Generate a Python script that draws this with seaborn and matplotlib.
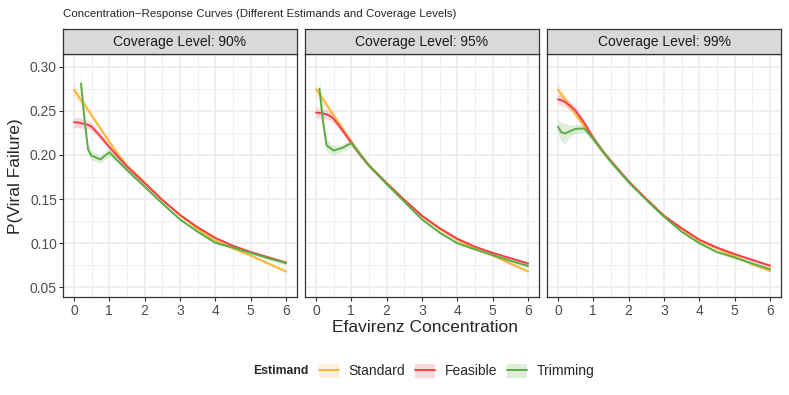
import matplotlib
matplotlib.use("Agg")
import matplotlib.pyplot as plt
from matplotlib.lines import Line2D
from matplotlib.patches import Patch
from matplotlib.ticker import MultipleLocator
import numpy as np
import pandas as pd
import seaborn as sns

nan = np.nan

conc = [0, 0.1, 0.2, 0.3, 0.4, 0.5, 0.75, 1, 1.25, 1.5, 2, 2.5, 3, 3.5, 4, 4.5, 5, 5.5, 6]
coverage_levels = ["90%", "95%", "99%"]
estimands = ["Standard", "Feasible", "Trimming"]
colors = ["#FDB636", "#F2404A", "#5BAE45"]

# coverage 90%
std_90 = [0.274, 0.268, 0.262, 0.257, 0.251, 0.245, 0.230, 0.215, 0.201, 0.188, 0.169, 0.149, 0.132, 0.116, 0.103, 0.094, 0.086, 0.077, 0.068]
fea_90 = [0.237, 0.2368, 0.236, 0.235, 0.234, 0.232, 0.221, 0.209, 0.198, 0.187, 0.168, 0.149, 0.132, 0.118, 0.106, 0.097, 0.090, 0.084, 0.078]
trm_90 = [nan, nan, 0.281, 0.240, 0.206, 0.199, 0.195, 0.203, 0.193, 0.183, 0.164, 0.145, 0.127, 0.113, 0.1005, 0.095, 0.089, 0.083, 0.0775]
# coverage 95%
std_95 = [0.2745, 0.269, 0.263, 0.257, 0.251, 0.245, 0.230, 0.215, 0.201, 0.188, 0.168, 0.149, 0.131, 0.116, 0.104, 0.094, 0.086, 0.077, 0.068]
fea_95 = [0.248, 0.2475, 0.247, 0.246, 0.244, 0.241, 0.228, 0.214, 0.200, 0.188, 0.168, 0.149, 0.131, 0.117, 0.105, 0.096, 0.089, 0.083, 0.077]
trm_95 = [nan, 0.275, 0.238, 0.211, 0.208, 0.205, 0.208, 0.2135, 0.201, 0.188, 0.167, 0.147, 0.127, 0.112, 0.100, 0.093, 0.0865, 0.080, 0.0743]
# coverage 99%
std_99 = [0.274, 0.2685, 0.263, 0.257, 0.252, 0.246, 0.232, 0.219, 0.205, 0.193, 0.170, 0.150, 0.131, 0.116, 0.103, 0.094, 0.085, 0.076, 0.0686]
fea_99 = [0.263, 0.262, 0.260, 0.257, 0.254, 0.250, 0.236, 0.219, 0.205, 0.193, 0.170, 0.150, 0.131, 0.117, 0.104, 0.095, 0.0876, 0.081, 0.0745]
trm_99 = [0.232, 0.2255, 0.2245, 0.226, 0.228, 0.2295, 0.230, 0.218, 0.205, 0.192, 0.169, 0.149, 0.130, 0.113, 0.100, 0.090, 0.0838, 0.077, 0.0705]

# half widths of the confidence bands
std_hw = [0.007, 0.006, 0.0055, 0.005, 0.0045, 0.004, 0.0035, 0.003, 0.0025, 0.002, 0.0018, 0.0015, 0.0015, 0.0015, 0.0015, 0.0015, 0.0015, 0.0018, 0.002]
fea_hw = [0.006, 0.0058, 0.0055, 0.005, 0.0048, 0.0045, 0.004, 0.0035, 0.003, 0.0025, 0.002, 0.0015, 0.0015, 0.0015, 0.0015, 0.0015, 0.0015, 0.0018, 0.002]
trm_hw = [0.008, 0.011, 0.012, 0.008, 0.006, 0.005, 0.0045, 0.004, 0.003, 0.0025, 0.002, 0.0015, 0.0015, 0.0015, 0.0015, 0.0015, 0.0015, 0.0018, 0.002]

curves = {
    "90%": [std_90, fea_90, trm_90],
    "95%": [std_95, fea_95, trm_95],
    "99%": [std_99, fea_99, trm_99],
}
half_widths = [std_hw, fea_hw, trm_hw]

rows = []
for cov in coverage_levels:
    for est, vals, hw in zip(estimands, curves[cov], half_widths):
        for c, v, h in zip(conc, vals, hw):
            if not np.isnan(v):
                rows.append({"coverage": cov, "estimand": est, "conc": c, "p": v, "lo": v - h, "hi": v + h})
df = pd.DataFrame(rows)

sns.set_style("white")
plt.rcParams['font.family'] = ['Liberation Sans', 'DejaVu Sans']

W, H = 789, 395
fig = plt.figure(figsize=(W / 100, H / 100), dpi=100)

panel_left = [63.3, 305.3, 547.3]
panel_w = 233.4
panel_top, panel_bot = 54.3, 297.3
strip_top = 29
dark = "#333333"

for i, cov in enumerate(coverage_levels):
    ax = fig.add_axes([panel_left[i] / W, 1 - panel_bot / H, panel_w / W, (panel_bot - panel_top) / H])
    sub = df[df.coverage == cov]
    for est, col in zip(estimands, colors):
        s = sub[sub.estimand == est]
        ax.fill_between(s.conc, s.lo, s.hi, color=col, alpha=0.2, lw=0)
    sns.lineplot(data=sub, x="conc", y="p", hue="estimand", hue_order=estimands,
                 palette=colors, estimator=None, errorbar=None, legend=False,
                 linewidth=1.4, ax=ax)
    ax.set_xlim(-0.3, 6.3)
    ax.set_ylim(0.0387, 0.314)
    ax.set_xticks(range(7))
    ax.xaxis.set_minor_locator(MultipleLocator(0.5))
    ax.yaxis.set_minor_locator(MultipleLocator(0.025))
    yt = [0.05, 0.10, 0.15, 0.20, 0.25, 0.30]
    ax.set_yticks(yt)
    ax.set_axisbelow(True)
    ax.grid(which="major", color="#EBEBEB", lw=1.1)
    ax.grid(which="minor", color="#EBEBEB", lw=0.55)
    ax.set_xlabel("")
    ax.set_ylabel("")
    for sp in ax.spines.values():
        sp.set_color(dark)
        sp.set_linewidth(0.9)
    ax.tick_params(which="major", direction="out", length=2.6, width=0.8, color=dark,
                   labelsize=10, labelcolor="#4D4D4D", pad=2)
    ax.tick_params(which="minor", length=0)
    ax.tick_params(axis="y", left=True)
    ax.tick_params(axis="x", bottom=True)
    if i == 0:
        ax.set_yticklabels([f"{v:.2f}" for v in yt])
    else:
        ax.tick_params(axis="y", left=False, labelleft=False)

    # facet strip
    sax = fig.add_axes([panel_left[i] / W, 1 - panel_top / H, panel_w / W, (panel_top - strip_top) / H])
    sax.set_facecolor("#D9D9D9")
    sax.set_xticks([])
    sax.set_yticks([])
    for sp in sax.spines.values():
        sp.set_color(dark)
        sp.set_linewidth(0.9)
    sax.text(0.5, 0.5, f"Coverage Level: {cov}", ha="center", va="center",
             fontsize=10, color="#1A1A1A", transform=sax.transAxes)

fig.text(63.3 / W, 1 - 14 / H, "Concentration\u2212Response Curves (Different Estimands and Coverage Levels)",
         ha="left", va="center", fontsize=8.25)
fig.text(425 / W, 1 - 328 / H, "Efavirenz Concentration", ha="center", va="center", fontsize=12.5)
fig.text(16 / W, 1 - 176 / H, "P(Viral Failure)", ha="center", va="center", rotation=90, fontsize=12.5)

fig.text(253 / W, 1 - 371 / H, "Estimand", ha="left", va="center", fontsize=8.8, fontweight="bold")
handles = [(Patch(facecolor=c, alpha=0.2, lw=0), Line2D([], [], color=c, lw=1.4)) for c in colors]
fig.legend(handles, estimands, ncol=3, loc="center left", bbox_to_anchor=(319 / W, 1 - 371 / H),
           frameon=False, fontsize=10, handlelength=1.45, handleheight=1.2,
           handletextpad=0.65, columnspacing=0.75, borderpad=0, borderaxespad=0)

fig.savefig("out.png", dpi=100)
